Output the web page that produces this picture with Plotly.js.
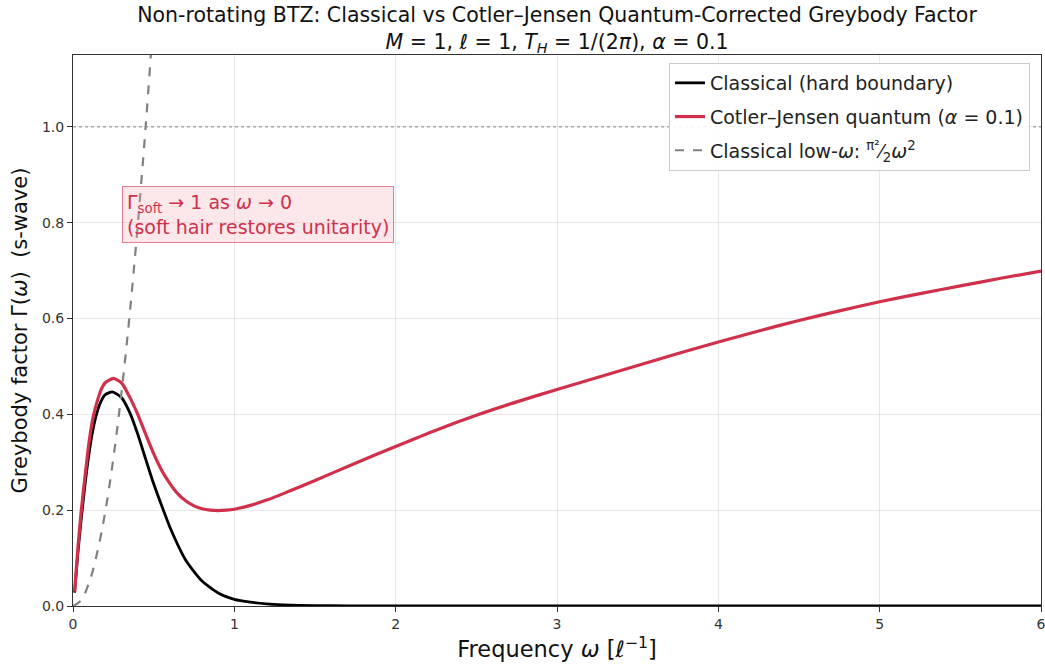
<!DOCTYPE html>
<html>
<head>
<meta charset="utf-8">
<script src="https://cdn.plot.ly/plotly-3.0.1.min.js"></script>
<style>html,body{margin:0;padding:0;background:#fff;}#chart{width:1045px;height:671px;}</style>
</head>
<body>
<div id="chart"></div>
<script>
// Classical (hard boundary)
const omegaClassical = [0.01, 0.03, 0.05, 0.075, 0.1, 0.125, 0.15, 0.175, 0.2, 0.244, 0.3, 0.35, 0.4, 0.45, 0.5, 0.56, 0.6, 0.7, 0.8, 0.9, 1.0, 1.1, 1.2, 1.3, 1.4, 1.6, 1.8, 2.0, 3.0, 4.0, 5.0, 6.0];
const gammaClassical = [0.028, 0.11, 0.178, 0.255, 0.32, 0.37, 0.405, 0.428, 0.441, 0.447, 0.435, 0.405, 0.36, 0.307, 0.255, 0.20, 0.165, 0.095, 0.052, 0.027, 0.014, 0.008, 0.0045, 0.0025, 0.0014, 0.0005, 0.0002, 0.0001, 0.0, 0.0, 0.0, 0.0];
// Cotler–Jensen quantum (alpha = 0.1)
const omegaQuantum = [0.01, 0.03, 0.05, 0.075, 0.1, 0.125, 0.15, 0.175, 0.2, 0.25, 0.3, 0.35, 0.4, 0.45, 0.5, 0.55, 0.6, 0.65, 0.7, 0.75, 0.8, 0.85, 0.9, 0.95, 1.0, 1.1, 1.2, 1.3, 1.4, 1.5, 1.75, 2.0, 2.25, 2.5, 2.75, 3.0, 3.25, 3.5, 3.75, 4.0, 4.25, 4.5, 4.75, 5.0, 5.25, 5.5, 5.75, 6.0];
const gammaQuantum = [0.030, 0.12, 0.195, 0.272, 0.343, 0.395, 0.427, 0.452, 0.466, 0.475, 0.466, 0.437, 0.401, 0.359, 0.318, 0.283, 0.256, 0.234, 0.219, 0.209, 0.203, 0.2, 0.199, 0.2, 0.202, 0.21, 0.221, 0.234, 0.248, 0.262, 0.298, 0.333, 0.367, 0.398, 0.426, 0.452, 0.477, 0.502, 0.527, 0.551, 0.574, 0.596, 0.616, 0.635, 0.652, 0.668, 0.684, 0.699];
// Classical low-omega approximation
const omegaLow = [0, 0.05, 0.1, 0.15, 0.2, 0.25, 0.3, 0.35, 0.4, 0.45, 0.5];
const gammaLow = [0, 0.012, 0.049, 0.111, 0.197, 0.308, 0.444, 0.604, 0.790, 0.999, 1.234];
// Tick labels
const xTicks = [0, 1, 2, 3, 4, 5, 6];
const yTicks = [0.0, 0.2, 0.4, 0.6, 0.8, 1.0];
const yTickText = ["0.0", "0.2", "0.4", "0.6", "0.8", "1.0"];

const RED = "#d0304a";
const FONT = "DejaVu Sans, sans-serif";

const traces = [
  {x: omegaClassical, y: gammaClassical, mode: "lines", name: "Classical (hard boundary)", legendgroup: "a",
   line: {color: "#000000", width: 2.8, shape: "spline", smoothing: 0.6}},
  {x: omegaQuantum, y: gammaQuantum, mode: "lines", name: "Cotler–Jensen quantum (<i>α</i> = 0.1)", legendgroup: "b",
   line: {color: RED, width: 3.2, shape: "spline", smoothing: 0.6}},
  {x: omegaLow, y: gammaLow, mode: "lines", name: "Classical low-<i>ω</i>: <sup>π²</sup>⁄<sub>2</sub><i>ω</i><sup>2</sup>", legendgroup: "c",
   line: {color: "#808080", width: 2.2, dash: "dash", shape: "spline"}}
];

const layout = {
  width: 1045, height: 671,
  margin: {l: 73, r: 4, t: 55, b: 65},
  paper_bgcolor: "#ffffff", plot_bgcolor: "#ffffff",
  font: {family: FONT, color: "#222"},
  title: {
    text: "Non-rotating BTZ: Classical vs Cotler–Jensen Quantum-Corrected Greybody Factor<br><i>M</i> = 1, <i>ℓ</i> = 1, <i>T</i><sub><i>H</i></sub> = 1/(2<i>π</i>), <i>α</i> = 0.1",
    x: 0.5, xref: "paper", xanchor: "center", y: 0.967, yref: "container", yanchor: "top",
    font: {family: FONT, size: 20.5, color: "#111"}
  },
  xaxis: {
    range: [0, 6], tickvals: xTicks, ticktext: xTicks.map(String),
    ticklabeloverflow: "allow",
    showgrid: true, gridcolor: "rgba(0,0,0,0.09)", gridwidth: 1,
    zeroline: false, showline: true, linecolor: "#333", linewidth: 1, mirror: true,
    ticks: "outside", ticklen: 5, tickcolor: "#333",
    tickfont: {family: FONT, size: 14, color: "#333"},
    title: {text: "Frequency <i>ω</i> [<i>ℓ</i><sup>−1</sup>]", font: {family: FONT, size: 22.5, color: "#111"}, standoff: 10}
  },
  yaxis: {
    range: [0, 1.15], tickvals: yTicks, ticktext: yTickText,
    showgrid: true, gridcolor: "rgba(0,0,0,0.09)", gridwidth: 1,
    zeroline: false, showline: true, linecolor: "#333", linewidth: 1, mirror: true,
    ticks: "outside", ticklen: 5, tickcolor: "#333",
    tickfont: {family: FONT, size: 14, color: "#333"},
    title: {text: "Greybody factor Γ(<i>ω</i>)  (s-wave)", font: {family: FONT, size: 21, color: "#111"}, standoff: 8}
  },
  shapes: [
    {type: "line", xref: "paper", x0: 0, x1: 1, yref: "y", y0: 1.0, y1: 1.0,
     line: {color: "rgba(128,128,128,0.7)", width: 1.2, dash: "dot"}, layer: "below"}
  ],
  annotations: [
    {xref: "x", yref: "y", x: 0.303, y: 0.818, xanchor: "left", yanchor: "middle", showarrow: false, align: "left",
     text: "Γ<sub>soft</sub> → 1 as <i>ω</i> → 0<br>(soft hair restores unitarity)",
     font: {family: FONT, size: 19, color: RED},
     bgcolor: "rgba(245,180,190,0.3)", bordercolor: "rgba(208,48,74,0.6)", borderwidth: 1, borderpad: 4}
  ],
  legend: {
    x: 0.9886, y: 0.9855, xanchor: "right", yanchor: "top",
    bgcolor: "rgba(255,255,255,0.9)", bordercolor: "#cccccc", borderwidth: 1,
    font: {family: FONT, size: 19, color: "#222"},
    tracegroupgap: 6
  },
  showlegend: true
};

Plotly.newPlot("chart", traces, layout, {displayModeBar: false, staticPlot: true});
</script>
</body>
</html>
